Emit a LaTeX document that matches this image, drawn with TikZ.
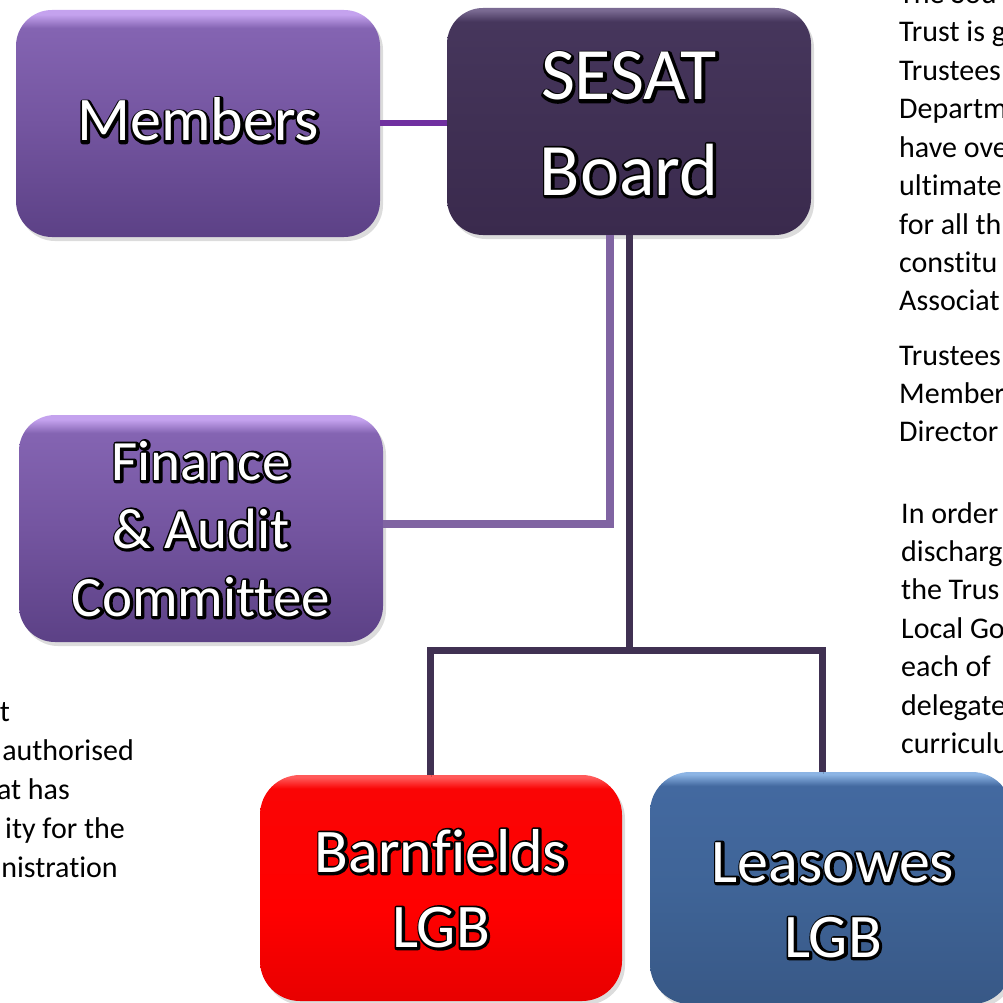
\documentclass[tikz,border=0pt]{standalone}
\usepackage{fontspec}
\setmainfont{Carlito}[Ligatures=NoCommon]
\usetikzlibrary{shadows,calc}
\definecolor{pBot}{HTML}{5C4186}
\definecolor{pMid}{HTML}{7455A0}
\definecolor{pTop}{HTML}{8464B2}
\definecolor{pHi}{HTML}{C4A2EE}
\definecolor{sBot}{HTML}{3A2A4D}
\definecolor{sMid}{HTML}{403054}
\definecolor{sTop}{HTML}{46365C}
\definecolor{sHi}{HTML}{7A6A92}
\definecolor{rBot}{HTML}{E80000}
\definecolor{rMid}{HTML}{FF0000}
\definecolor{rTop}{HTML}{FA0505}
\definecolor{rHi}{HTML}{FF5A5A}
\definecolor{bBot}{HTML}{385886}
\definecolor{bMid}{HTML}{3F6497}
\definecolor{bTop}{HTML}{4369A0}
\definecolor{bHi}{HTML}{8CB4E4}
\definecolor{memln}{HTML}{7030A0}
\definecolor{lightln}{HTML}{8064A2}
\definecolor{darkln}{HTML}{403152}
\pgfdeclareverticalshading{purpsh}{100bp}{color(0bp)=(pBot); color(25bp)=(pBot); color(50bp)=(pMid); color(71bp)=(pTop); color(74bp)=(pHi); color(100bp)=(pHi)}
\pgfdeclareverticalshading{sesatsh}{100bp}{color(0bp)=(sBot); color(25bp)=(sBot); color(50bp)=(sMid); color(72bp)=(sTop); color(74.5bp)=(sHi); color(100bp)=(sHi)}
\pgfdeclareverticalshading{redsh}{100bp}{color(0bp)=(rBot); color(25bp)=(rBot); color(45bp)=(rMid); color(72bp)=(rTop); color(74.5bp)=(rHi); color(100bp)=(rHi)}
\pgfdeclareverticalshading{bluesh}{100bp}{color(0bp)=(bBot); color(25bp)=(bBot); color(50bp)=(bMid); color(72bp)=(bTop); color(74.5bp)=(bHi); color(100bp)=(bHi)}
% outlined white text: one stroked black copy behind, one white copy on top
\newcommand\olt[1]{\rlap{\kern0.6pt\raisebox{-0.8pt}{\color{black}\special{pdf:literal direct 1 Tr 5 w 1 j}#1\special{pdf:literal direct 0 Tr 0.4 w 0 j}}}\textcolor{white}{#1}}
\tikzset{
  orgbox/.style={rounded corners=36pt, inner sep=0pt, draw=none,
    drop shadow={opacity=0.28, shadow xshift=3pt, shadow yshift=-4pt}},
  boxtxt/.style={anchor=base, inner sep=0pt, font=\fontsize{#1}{#1}\selectfont},
  bodytxt/.style={anchor=base west, inner sep=0pt, font=\fontsize{30}{36}\selectfont},
  lefttxt/.style={anchor=base east, inner sep=0pt, font=\fontsize{30}{36}\selectfont},
  conn/.style={line width=#1, line join=miter,
    preaction={draw=black, opacity=0.18, transform canvas={xshift=1.5pt, yshift=-2pt}}}
}
\begin{document}
\begin{tikzpicture}[x=1pt, y=-1pt]
\useasboundingbox (0,0) rectangle (1003,1003);
% boxes
\node[orgbox, shading=purpsh, minimum width=364pt, minimum height=227pt] (members) at (198,123.5) {};
\node[orgbox, shading=sesatsh, minimum width=364pt, minimum height=227pt] (sesat) at (629,121.5) {};
\node[orgbox, shading=purpsh, minimum width=364pt, minimum height=227pt] (finance) at (201,528.5) {};
\node[orgbox, shading=redsh, minimum width=362pt, minimum height=226pt, rounded corners=40pt] (barn) at (441,888) {};
\node[orgbox, shading=bluesh, minimum width=362pt, minimum height=232pt, rounded corners=40pt] (leas) at (831,888) {};
% connectors
\draw[conn=6pt, memln] (members.east) -- (members.east -| sesat.west);
\draw[conn=8pt, lightln] ([xshift=-19pt]sesat.south) |- ([yshift=5pt]finance.east);
\coordinate (jn) at (629,650);
\coordinate (bj) at (430,650);
\coordinate (lj) at (822,650);
\draw[conn=7pt, darkln] (sesat.south) -- (jn);
\draw[conn=7pt, darkln] (bj |- barn.north) -- (bj) -- (lj) -- (lj |- leas.north);
% right text
\node[bodytxt] (r1) at (899,3.6) {The Sou};
\node[bodytxt] (r2) at (899,42) {Trust is g};
\node[bodytxt] (r3) at (899,80.4) {Trustees};
\node[bodytxt] (r4) at (899,118.8) {Departm};
\node[bodytxt] (r5) at (899,157.2) {have ove};
\node[bodytxt] (r6) at (899,195.6) {ultimate};
\node[bodytxt] (r7) at (899,234) {for all th};
\node[bodytxt] (r8) at (899,272.4) {constitu};
\node[bodytxt] (r9) at (899,310.8) {Associat};
\node[bodytxt] (r10) at (899,365) {Trustees};
\node[bodytxt] (r11) at (899,403.4) {Member};
\node[bodytxt] (r12) at (899,441.8) {Director};
\node[bodytxt] (r13) at (901,523) {In order};
\node[bodytxt] (r14) at (901,561.4) {discharg};
\node[bodytxt] (r15) at (901,599.8) {the Trus};
\node[bodytxt] (r16) at (901,638.2) {Local Go};
\node[bodytxt] (r17) at (901,676.6) {each of};
\node[bodytxt] (r18) at (901,715) {delegate};
\node[bodytxt] (r19) at (901,753.4) {curriculu};
% left text
\node[lefttxt] (l1) at (10,721) {t};
\node[lefttxt] (l2) at (134,760) {authorised};
\node[lefttxt] (l3) at (70,799) {at has};
\node[lefttxt] (l4) at (125,838) {ity for the};
\node[lefttxt] (l5) at (118,877) {nistration};
% box labels
\node[boxtxt=62] (members-t) at (198,141) {\olt{Members}};
\node[boxtxt=74] (sesat-t1) at (629,100) {\olt{SESAT}};
\node[boxtxt=74] (sesat-t2) at (629,195) {\olt{Board}};
\node[boxtxt=57] (finance-t1) at (201,480) {\olt{Finance}};
\node[boxtxt=57] (finance-t2) at (201,548) {\olt{\&~Audit}};
\node[boxtxt=57] (finance-t3) at (201,616) {\olt{Committee}};
\node[boxtxt=62] (barn-t1) at (441,872) {\olt{Barnfields}};
\node[boxtxt=62] (barn-t2) at (441,947) {\olt{LGB}};
\node[boxtxt=62] (leas-t1) at (833,882) {\olt{Leasowes}};
\node[boxtxt=62] (leas-t2) at (833,957) {\olt{LGB}};
\end{tikzpicture}
\end{document}
